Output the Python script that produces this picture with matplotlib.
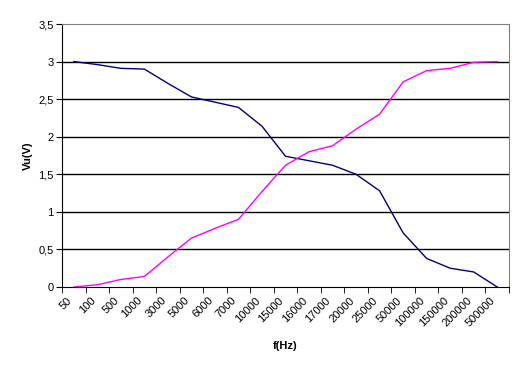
import numpy as np
import matplotlib.pyplot as plt
import matplotlib.transforms as mtransforms

# frequencies (category axis)
freqs = ["50", "100", "500", "1000", "3000", "5000", "6000", "7000", "10000",
         "15000", "16000", "17000", "20000", "25000", "50000", "100000",
         "150000", "200000", "500000"]

# output voltages
vu_low = [3.0, 2.96, 2.91, 2.90, 2.71, 2.53, 2.46, 2.39, 2.14, 1.74, 1.68,
          1.62, 1.50, 1.28, 0.72, 0.38, 0.25, 0.20, 0.0]
vu_high = [0.0, 0.03, 0.10, 0.14, 0.40, 0.65, 0.78, 0.90, 1.27, 1.62, 1.80,
           1.88, 2.10, 2.30, 2.73, 2.88, 2.91, 2.99, 3.0]

plt.rcParams['font.family'] = ['Liberation Sans', 'DejaVu Sans']

fig = plt.figure(figsize=(5.24, 3.71), dpi=100)
ax = fig.add_axes([62 / 524, 1 - 287 / 371, 447 / 524, 263 / 371])

x = np.arange(len(freqs))
ax.plot(x, vu_low, color='#000080', lw=1)
ax.plot(x, vu_high, color='#FF00FF', lw=1)

ax.set_xlim(-0.5, len(freqs) - 0.5)
ax.set_ylim(0, 3.5)

yt = np.arange(0, 3.51, 0.5)
ax.set_yticks(yt)
ax.set_yticklabels([('%g' % v).replace('.', ',') for v in yt], fontsize=8)
for v in yt[1:-1]:
    ax.axhline(v, color='black', lw=1, zorder=0)

# labels at category centres, ticks at boundaries
ax.set_xticks(x)
ax.set_xticklabels(freqs, rotation=45, ha='right', va='top', fontsize=8,
                   rotation_mode='anchor')
ax.tick_params(axis='x', length=0, pad=6)
shift = mtransforms.ScaledTranslation(-7 / 100, 0, fig.dpi_scale_trans)
for lab in ax.get_xticklabels():
    lab.set_transform(lab.get_transform() + shift)
ax.set_xticks(np.arange(-0.5, len(freqs)), minor=True)
ax.tick_params(axis='x', which='minor', length=4, direction='out')
ax.tick_params(axis='y', length=4, direction='out', pad=2)

ax.spines['top'].set_color('#808080')
ax.spines['right'].set_color('#808080')
ax.spines['left'].set_color('black')
ax.spines['bottom'].set_color('black')

ax.set_xlabel('f(Hz)', fontsize=8, fontweight='bold', labelpad=9)
ax.set_ylabel('Vu(V)', fontsize=8, fontweight='bold', labelpad=0)
ax.yaxis.set_label_coords(-29 / 447, 0.5)

fig.savefig('out.png', dpi=100)
